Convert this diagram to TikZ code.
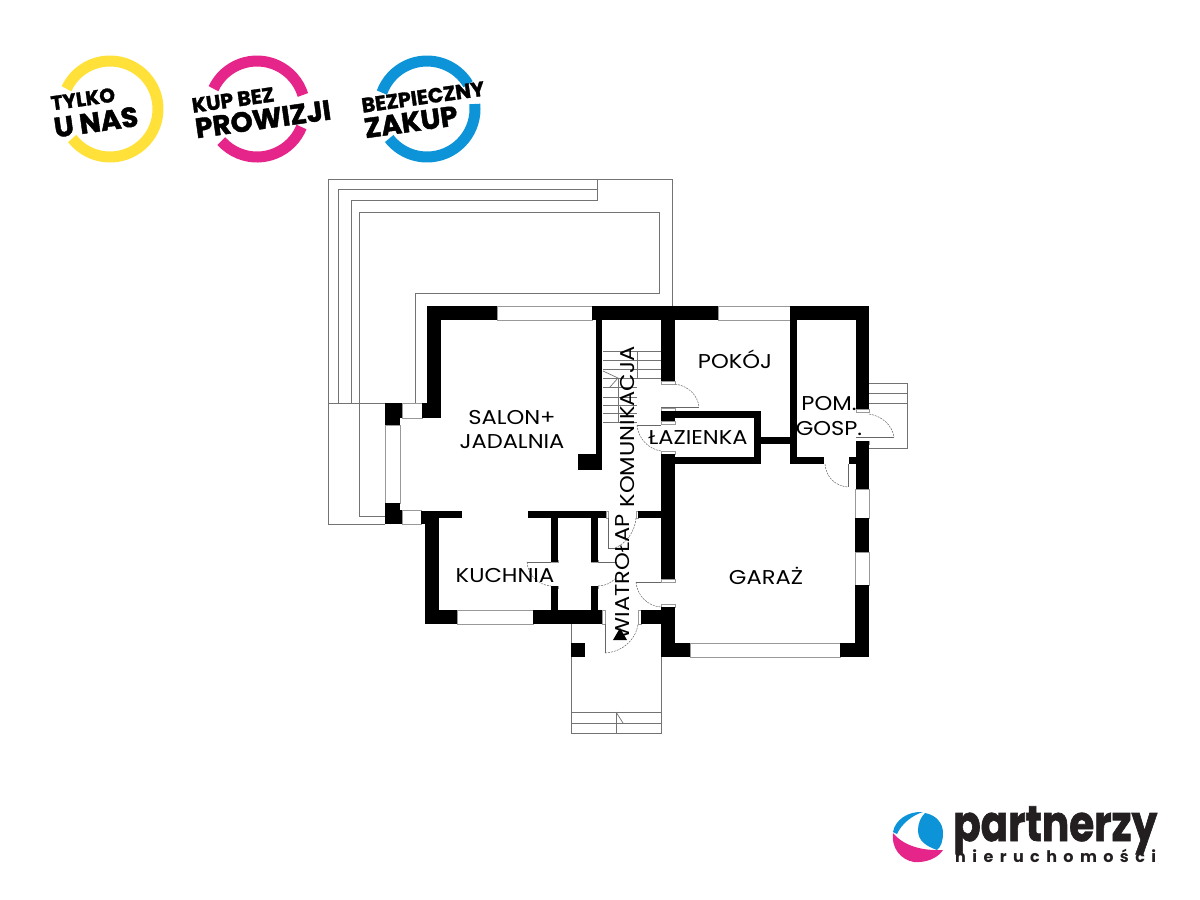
\documentclass[tikz,border=0pt]{standalone}
\usepackage{graphicx}
\usepackage{fontspec}
\setmainfont{Poppins}
\newfontfamily\logofont[LetterSpace=40]{Poppins}
\newfontfamily\heavyfont[BoldFeatures={FakeBold=1.5}]{Poppins}
\newcommand{\widetext}[1]{\scalebox{1.13}[1]{#1}}
\definecolor{ringyellow}{HTML}{FFE13A}
\definecolor{ringpink}{HTML}{E6258A}
\definecolor{ringblue}{HTML}{0D93D8}
\definecolor{logodark}{HTML}{231F20}
\tikzset{
    thinline/.style={draw=black!55, line width=0.7pt},
    doorline/.style={draw=black!60, line width=0.5pt},
    doorarc/.style={draw=black!60, line width=0.5pt, dash pattern=on 2pt off 1pt},
    winpane/.style={draw=black!40, fill=white, line width=0.7pt},
    room/.style={font=\fontsize{20}{20}\selectfont, align=center, inner sep=0pt, text=black},
    badgetext/.style={inner sep=0pt, rotate=8},
    ring/.style={line width=11pt, line cap=butt}
}
\begin{document}
\begin{tikzpicture}[x=1pt, y=-1pt]
    \useasboundingbox (0,0) rectangle (1200,900);

    % badges
    \coordinate (yellowc) at (110,109);
    \coordinate (pinkc) at (257,109);
    \coordinate (bluec) at (427,109);
    \draw[ring, ringyellow] (yellowc) ++(155:48pt) arc (155:-142:48pt);
    \draw[ring, ringpink] (pinkc) ++(155:48pt) arc (155:17:48pt);
    \draw[ring, ringpink] (pinkc) ++(-22:48pt) arc (-22:-138:48pt);
    \draw[ring, ringblue] (bluec) ++(160:48pt) arc (160:31:48pt);
    \draw[ring, ringblue] (bluec) ++(6:48pt) arc (6:-142:48pt);
    \node[badgetext, font=\heavyfont\fontsize{20}{20}\bfseries] (tylko) at (83,99) {TYLKO};
    \node[badgetext, font=\heavyfont\fontsize{28}{28}\bfseries] (unas) at (96,122) {U NAS};
    \node[badgetext, font=\heavyfont\fontsize{20.5}{20}\bfseries] (kupbez) at (233,100) {KUP BEZ};
    \node[badgetext, font=\heavyfont\fontsize{28}{28}\bfseries] (prowizji) at (263,119) {PROWIZJI};
    \node[badgetext, font=\heavyfont\fontsize{20.5}{20}\bfseries] (bezpieczny) at (423,97) {BEZPIECZNY};
    \node[badgetext, font=\heavyfont\fontsize{28}{28}\bfseries] (zakup) at (411,122) {ZAKUP};

    % terrace
    \draw[thinline] (385,524) -- (328,524) -- (328,179) -- (672,179) -- (672,306);
    \draw[thinline] (328,403) -- (385,403);
    \draw[thinline] (338,403) -- (338,189) -- (597,189);
    \draw[thinline] (597,179) -- (597,200) -- (351,200) -- (351,403);
    \draw[thinline] (385,516) -- (359,516) -- (359,212) -- (659,212) -- (659,293) -- (415,293) -- (415,403);

    % porch
    \draw[thinline] (571,624) -- (571,733) -- (661,733) -- (661,657);
    \draw[thinline] (571,712) -- (661,712);
    \draw[thinline] (571,723) -- (661,723);
    \draw[thinline] (616,712) -- (616,733);
    \draw[thinline] (616,712) -- (623,723);

    % side steps
    \draw[thinline] (869,383) -- (907,383) -- (907,448) -- (869,448);
    \foreach \yy in {393,403}
        \draw[thinline] (869,\yy) -- (907,\yy);

    % stairs
    \foreach \yy in {351,360,369,378}
        \draw[thinline] (637,\yy) -- (661,\yy);
    \foreach \yy in {351,360,369,378,387,397,405,413,422}
        \draw[thinline] (603,\yy) -- (637,\yy);
    \draw[thinline] (637,351) -- (637,378);
    \draw[thinline] (603,371) -- (618,378) -- (610,387);
    \draw[thinline] (618,378) -- (618,422);

    % windows
    \foreach \xa/\ya/\xb/\yb in {497/306/592/320, 718/306/790/320, 457/610/533/624, 690/643/840/657,
        402/403/422/418, 402/510/421/524, 385/425/400/503, 855/489/869/518, 855/552/869/585,
        602/610/605/624, 638/610/641/624, 661/381/675/384, 661/408/675/411, 661/421/675/424,
        661/451/675/454, 856/409/869/412, 856/441/869/444, 661/579/675/582, 661/604/675/607,
        606/511/608/518, 636/511/638/518, 551/560/558/562, 551/586/558/588, 591/560/598/562, 591/586/598/588}
        \draw[winpane] (\xa,\ya) rectangle (\xb,\yb);

    % walls
    \foreach \xa/\ya/\xb/\yb in {427/306/497/320, 427/306/441/418, 422/403/441/418,
        385/403/402/418, 385/403/400/425, 385/503/400/524, 385/510/402/524,
        421/511/462/518, 421/511/439/524, 425/511/439/624, 425/610/457/624,
        533/610/602/624, 528/511/606/518, 638/511/662/518,
        551/518/558/562, 551/586/558/610, 591/518/598/562, 591/586/598/610,
        661/454/675/579, 641/610/675/624, 661/607/675/657, 661/643/690/657,
        840/643/869/657, 855/585/869/657, 855/518/869/552, 856/441/869/489,
        592/306/718/320, 790/306/869/320, 856/306/869/409,
        596/320/602/470, 578/454/602/470, 661/320/675/381,
        661/411/675/421, 661/411/761/418, 754/411/761/464, 661/457/761/464,
        761/437/790/444, 790/320/797/464, 790/457/824/464, 849/457/856/464}
        \fill[black] (\xa,\ya) rectangle (\xb,\yb);
    \fill[black] (571,643) rectangle (585,657);

    % doors
    \draw[doorline] (661,407) -- (699,407);
    \draw[doorarc] (675,384) .. controls (689,386) and (698,396) .. (699,407);
    \draw[doorline] (637,425) -- (661,425);
    \draw[doorarc] (637,425) .. controls (638,438) and (648,449) .. (661,451);
    \draw[doorline] (856,437) -- (894,437);
    \draw[doorarc] (869,414) .. controls (882,416) and (892,425) .. (894,437);
    \draw[doorline] (848,464) -- (848,487);
    \draw[doorarc] (825,464) .. controls (826,477) and (835,486) .. (848,487);
    \draw[doorline] (608,518) -- (608,548) -- (615,548);
    \draw[doorarc] (636,518) .. controls (635,531) and (627,543) .. (615,548);
    \draw[doorline] (527,562) -- (551,562);
    \draw[doorarc] (527,562) .. controls (528,575) and (538,585) .. (551,586);
    \draw[doorline] (598,562) -- (617,562);
    \draw[doorarc] (598,586) .. controls (605,586) and (611,583) .. (616,578);
    \draw[doorline] (636,582) -- (661,582);
    \draw[doorarc] (636,582) .. controls (637,595) and (647,606) .. (661,607);
    \draw[doorline] (605,624) -- (605,653);
    \draw[doorarc] (605,653) .. controls (622,652) and (636,640) .. (638,624);

    % entrance mark
    \fill[black] (613,640) -- (627,640) -- (620,628) -- cycle;

    % rooms
    \node[room] (salon) at (512,430) {\widetext{SALON+}\\[4pt]\widetext{JADALNIA}};
    \node[room] (pokoj) at (735,359) {\widetext{POKÓJ}};
    \node[room] (pom) at (829,416) {\widetext{POM.}\\[5pt]\widetext{GOSP.}};
    \node[room] (lazienka) at (698,438) {\widetext{ŁAZIENKA}};
    \node[room] (kuchnia) at (505,576) {\widetext{KUCHNIA}};
    \node[room] (garaz) at (766,576) {\widetext{GARAŻ}};
    \node[room, rotate=90] (komunikacja) at (628,427) {\widetext{KOMUNIKACJA}};
    \node[room, rotate=90] (wiatrolap) at (623,577) {\widetext{WIATROŁAP}};

    % logo
    \fill[ringblue] (925,813) .. controls (936,815) and (943,823) .. (943,833)
        .. controls (943,841) and (941,847) .. (937,850)
        .. controls (926,846) and (918,841) .. (918,830)
        .. controls (918,823) and (921,817) .. (925,813) -- cycle;
    \fill[ringblue] (893,832) .. controls (895,820) and (908,811) .. (923,812)
        .. controls (913,815) and (902,823) .. (897,834) -- cycle;
    \fill[ringpink] (893,833) .. controls (903,845) and (920,851) .. (943,850)
        .. controls (938,858) and (926,863) .. (914,862)
        .. controls (901,860) and (891,848) .. (893,833) -- cycle;
    \node[font=\heavyfont\fontsize{50}{50}\bfseries, text=logodark, inner sep=0pt, anchor=base west] (partnerzy) at (953,841) {\scalebox{0.81}[1]{partnerzy}};
    \node[font=\logofont\fontsize{16}{16}\bfseries, text=logodark, inner sep=0pt, anchor=base west] (nieruch) at (955,862) {nieruchomości};
\end{tikzpicture}
\end{document}
